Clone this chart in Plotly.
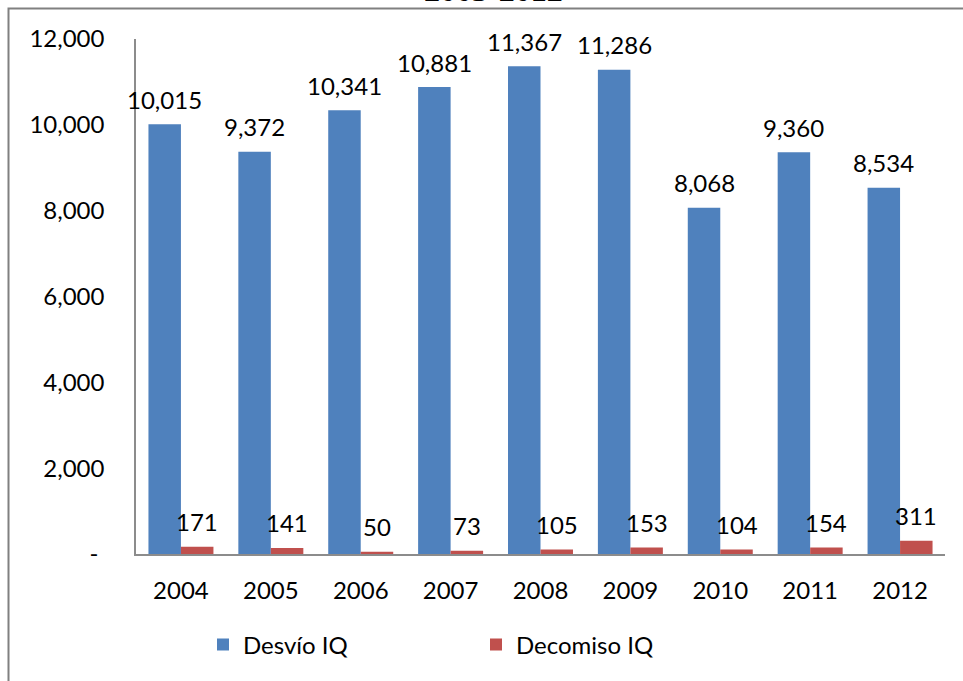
import plotly.graph_objects as go

years = ["2004", "2005", "2006", "2007", "2008", "2009", "2010", "2011", "2012"]
desvio = [10015, 9372, 10341, 10881, 11367, 11286, 8068, 9360, 8534]
decomiso = [171, 141, 50, 73, 105, 153, 104, 154, 311]
y_ticks = [0, 2000, 4000, 6000, 8000, 10000, 12000]
y_ticktext = ["-\u00a0", "2,000", "4,000", "6,000", "8,000", "10,000", "12,000"]
title_text = "2003-2012"

BLUE = "#4F81BD"
RED = "#C0504D"
FONT = "Lato"
FS = 24

W, H = 963, 681
# plot area in page pixels
PX0, PX1, PY0, PY1 = 136, 945, 39, 554
L, T, R, B = PX0, PY0, W - PX1, H - PY1
pw = PX1 - PX0
ph = PY1 - PY0

def px_x(p):  # page x -> paper
    return (p - PX0) / pw

def px_y(p):  # page y -> paper
    return (PY1 - p) / ph

fig = go.Figure()
fig.add_trace(go.Bar(name="Desvío IQ", x=years, y=desvio, marker_color=BLUE,
                     marker_line_width=0, legend="legend"))
fig.add_trace(go.Bar(name="Decomiso IQ", x=years, y=decomiso, marker_color=RED,
                     marker_line_width=0, legend="legend2"))

BARGAP = 0.277
bar_px = pw / len(years) * (1 - BARGAP) / 2
annotations = []
for series, shift in ((desvio, -bar_px / 2), (decomiso, bar_px / 2)):
    for i, v in enumerate(series):
        annotations.append(dict(x=i, y=v, xref="x", yref="y", text=f"{v:,}",
                                showarrow=False, xshift=shift, yshift=25,
                                yanchor="middle",
                                font=dict(family=FONT, size=FS, color="black")))

annotations.append(dict(x=px_x(493), y=px_y(10.5), xref="paper", yref="paper",
                        text="<b>" + title_text + "</b>", showarrow=False,
                        yanchor="bottom", xanchor="center",
                        font=dict(family="Liberation Serif", size=32, color="black")))

shapes = [
    dict(type="rect", xref="paper", yref="paper", x0=px_x(8.5), x1=px_x(W + 20),
         y0=px_y(8.5), y1=px_y(H + 20), line=dict(color="#808080", width=2),
         fillcolor="rgba(0,0,0,0)", layer="below"),
]

legend_common = dict(orientation="h", y=px_y(645), yanchor="middle",
                     font=dict(family=FONT, size=FS, color="black"),
                     bgcolor="rgba(0,0,0,0)")

fig.update_layout(
    width=W, height=H,
    margin=dict(l=L, r=R, t=T, b=B),
    paper_bgcolor="white", plot_bgcolor="white",
    barmode="group", bargap=BARGAP, bargroupgap=0,
    font=dict(family=FONT, size=FS, color="black"),
    showlegend=True,
    legend=dict(x=px_x(203), xanchor="left", **legend_common),
    legend2=dict(x=px_x(476), xanchor="left", **legend_common),
    annotations=annotations,
    shapes=shapes,
    xaxis=dict(type="category", range=[-0.5, len(years) - 0.5], showline=True,
               linecolor="#8c8c8c", linewidth=1.5,
               showgrid=False, ticks="", ticklabelstandoff=14,
               tickfont=dict(family=FONT, size=FS)),
    yaxis=dict(showline=True, linecolor="#8c8c8c", linewidth=1.5, showgrid=False,
               range=[0, 12000], tickvals=y_ticks, ticktext=y_ticktext,
               ticks="", ticklabelstandoff=25, zeroline=False,
               tickfont=dict(family=FONT, size=FS)),
)

fig.write_html("out.html", config={"displayModeBar": False},
               post_script="document.body.style.margin='0';")
